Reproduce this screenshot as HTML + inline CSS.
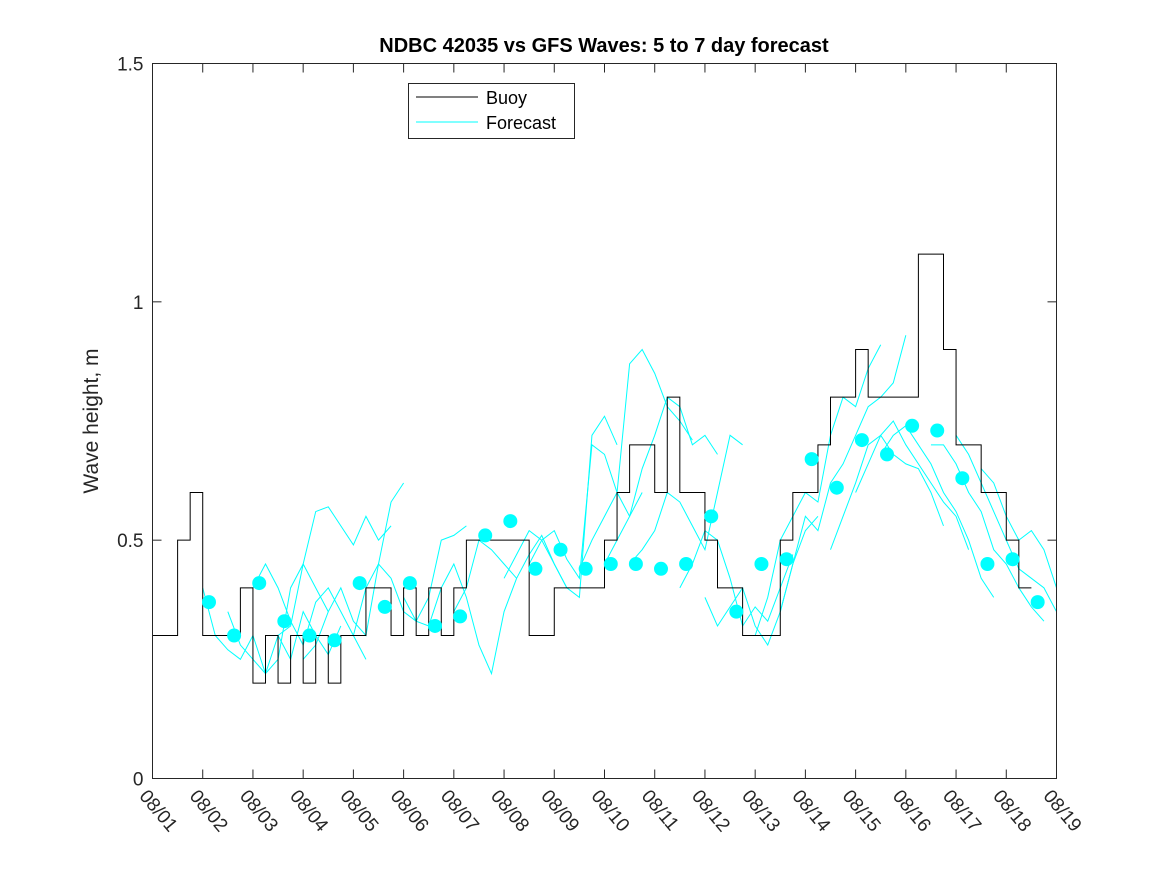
<!DOCTYPE html>
<html><head><meta charset="utf-8"><style>
body{margin:0;background:#fff;font-family:"Liberation Sans",sans-serif}
svg{display:block}
</style></head><body>
<svg id="chart" width="1167" height="875">
<rect x="0" y="0" width="1167" height="875" fill="#fff"/>
<text x="604" y="52" text-anchor="middle" font-size="20" font-weight="bold">NDBC 42035 vs GFS Waves: 5 to 7 day forecast</text>
<text transform="translate(98,421) rotate(-90)" text-anchor="middle" font-size="21" fill="#262626">Wave height, m</text>
<g id="plot"></g>
<rect x="152.5" y="63.5" width="904" height="715" fill="none" stroke="#262626"/>
<g>
<rect x="408.5" y="83.5" width="166" height="55" fill="#fff" stroke="#262626"/>
<line x1="416" y1="97" x2="478" y2="97" stroke="#000"/>
<text x="486" y="104" font-size="18">Buoy</text>
<line x1="416" y1="122" x2="478" y2="122" stroke="#00ffff"/>
<text x="486" y="129" font-size="18">Forecast</text>
</g>
</svg>
<script>
const xTickLabels=["08/01","08/02","08/03","08/04","08/05","08/06","08/07","08/08","08/09","08/10","08/11","08/12","08/13","08/14","08/15","08/16","08/17","08/18","08/19"];
const yTicks=[0,0.5,1,1.5];
const yTickLabels=["0","0.5","1","1.5"];
const buoyStep=0.25;
const buoyValues=[0.3,0.3,0.5,0.6, 0.3,0.3,0.3,0.4, 0.2,0.3,0.2,0.3, 0.2,0.3,0.2,0.3, 0.3,0.4,0.4,0.3, 0.4,0.3,0.4,0.3, 0.4,0.5,0.5,0.5, 0.5,0.5,0.3,0.3, 0.4,0.4,0.4,0.4, 0.5,0.6,0.7,0.7, 0.6,0.8,0.6,0.6, 0.5,0.4,0.4,0.3, 0.3,0.3,0.5,0.6, 0.6,0.7,0.8,0.8, 0.9,0.8,0.8,0.8, 0.8,1.1,1.1,0.9, 0.7,0.7,0.6,0.6, 0.5,0.4];
const dotStart=1.125;
const dotValues=[.37,.30,.41,.33,.30,.29,.41,.36,.41,.32,.34,.51,.54,.44,.48,.44,.45,.45,.44,.45,.55,.35,.45,.46,.67,.61,.71,.68,.74,.73,.63,.45,.46,.37];
const runStarts=[1.0,1.5,2.0,2.5,3.0,4.0,5.0,6.0,7.0,7.5,8.5,9.0,9.5,10.5,11.0,12.0,12.5,13.5,14.0,14.5,15.5,16.0,16.5];
const runValues=[
[.40,.30,.27,.25,.30,.22,.25,.40,.45,.40,.35],
[.35,.28,.25,.22,.30,.25,.35,.30,.26,.32],
[.40,.45,.40,.33,.28,.37,.40,.35,.30,.25],
[.30,.32,.45,.56,.57,.53,.49,.55,.50,.53],
[.25,.28,.35,.40,.33,.30,.45,.58,.62],
[.30,.40,.45,.42,.35,.33,.38,.50,.51,.53],
[.38,.33,.32,.40,.45,.38,.28,.22,.35,.42],
[.35,.40,.50,.48,.45,.42,.47,.51,.45,.40],
[.42,.47,.52,.50,.45,.40,.38,.72,.76,.70],
[.45,.50,.52,.46,.42,.70,.68,.60,.55,.60],
[.44,.50,.55,.60,.87,.90,.85,.78,.75,.71],
[.45,.50,.55,.65,.72,.80,.78,.70,.72,.68],
[.45,.48,.52,.60,.58,.53,.48,.60,.72,.70],
[.40,.45,.52,.50,.42,.32,.36,.33,.40,.47],
[.38,.32,.36,.40,.32,.28,.35,.45,.52,.55],
[.30,.38,.50,.55,.60,.58,.72,.80,.78,.86,.91],
[.35,.45,.55,.52,.62,.66,.72,.78,.80,.83,.93],
[.48,.55,.62,.70,.72,.68,.66,.65,.60,.53],
[.60,.66,.72,.75,.70,.66,.62,.58,.55,.48],
[.68,.72,.74,.70,.66,.60,.56,.50,.42,.38],
[.70,.70,.66,.60,.56,.48,.45,.40,.36,.33],
[.72,.68,.62,.56,.50,.44,.42,.40,.35,.30],
[.65,.62,.55,.50,.52,.48,.40,.35,.30,.27]];
const X0=152.5,X1=1056.5,Y0=778.5,Y1=63.5;
const xs=d=>X0+(X1-X0)*d/18;
const ys=v=>Y0-(Y0-Y1)*v/1.5;
const NS="http://www.w3.org/2000/svg";
const svg=document.getElementById('chart');
const g=document.getElementById('plot');
function mk(t,a,p){const e=document.createElementNS(NS,t);for(const k in a)e.setAttribute(k,a[k]);(p||g).appendChild(e);return e;}
runValues.forEach((vals,i)=>{
 const pts=vals.map((v,j)=>xs(Math.min(18,runStarts[i]+j*0.25))+','+ys(v)).join(' ');
 const e=mk('polyline',{points:pts,fill:'none',stroke:'#00ffff','stroke-width':1});
 
 
});
let bp=[];
buoyValues.forEach((v,i)=>{bp.push(xs(i*buoyStep)+','+ys(v));bp.push(xs((i+1)*buoyStep)+','+ys(v));});
const bl=mk('polyline',{points:bp.join(' '),fill:'none',stroke:'#000','stroke-width':1});


dotValues.forEach((v,i)=>{
 const c=mk('circle',{cx:xs(dotStart+i*0.5),cy:ys(v),r:7,fill:'#00ffff'});
 
 
});
xTickLabels.forEach((l,i)=>{
 const x=xs(i);
 mk('line',{x1:x,y1:Y0,x2:x,y2:Y0-9,stroke:'#262626'},svg);
 mk('line',{x1:x,y1:Y1,x2:x,y2:Y1+9,stroke:'#262626'},svg);
 const t=mk('text',{x:0,y:0,'font-size':19,fill:'#262626',transform:`translate(${x-14},${Y0+18}) rotate(50)`},svg);
 t.textContent=l;
 
 
});
yTicks.forEach((v,i)=>{
 const y=ys(v);
 mk('line',{x1:X0,y1:y,x2:X0+9,y2:y,stroke:'#262626'},svg);
 mk('line',{x1:X1,y1:y,x2:X1-9,y2:y,stroke:'#262626'},svg);
 const t=mk('text',{x:X0-9,y:y+7,'font-size':19,'text-anchor':'end',fill:'#262626'},svg);
 t.textContent=yTickLabels[i];
 
 
});
</script>
</body></html>
